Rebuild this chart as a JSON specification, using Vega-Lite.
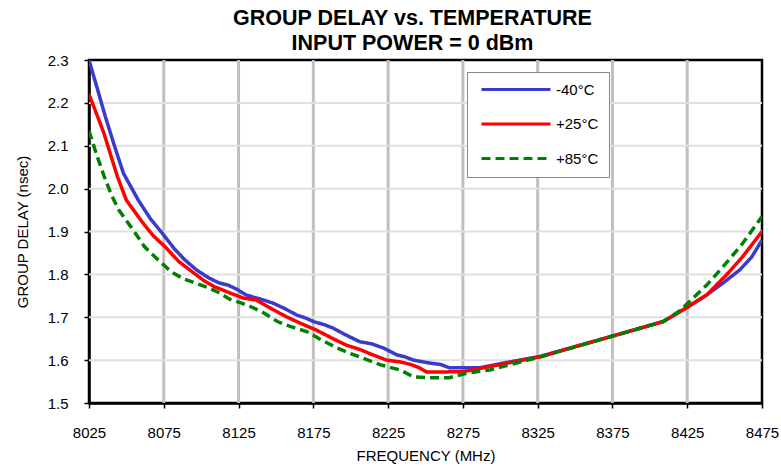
{
  "$schema": "https://vega.github.io/schema/vega-lite/v6.json",
  "width": 673,
  "height": 343,
  "autosize": "none",
  "padding": {"left": 89, "top": 60, "right": 19, "bottom": 66},
  "background": "white",
  "title": {
    "text": ["GROUP DELAY vs. TEMPERATURE", "INPUT POWER = 0 dBm"],
    "font": "Liberation Sans",
    "fontSize": 21.5,
    "fontWeight": "bold",
    "color": "black",
    "anchor": "middle",
    "offset": -1,
    "lineHeight": 25,
    "dx": -13
  },
  "config": {
    "font": "Liberation Sans",
    "view": {"stroke": "black", "strokeWidth": 2.5},
    "axis": {
      "labelFont": "Liberation Sans",
      "titleFont": "Liberation Sans",
      "labelFontSize": 15,
      "titleFontSize": 15,
      "titleFontWeight": "normal",
      "labelColor": "black",
      "titleColor": "black",
      "domainColor": "black",
      "domainWidth": 2.5,
      "tickColor": "black",
      "tickWidth": 1.5,
      "tickSize": 5,
      "labelFlush": false
    }
  },
  "data": {
    "values": [
      {"s": "-40°C", "f": 8025, "v": 2.30},
      {"s": "-40°C", "f": 8030, "v": 2.24},
      {"s": "-40°C", "f": 8036, "v": 2.167},
      {"s": "-40°C", "f": 8042, "v": 2.10},
      {"s": "-40°C", "f": 8048, "v": 2.036},
      {"s": "-40°C", "f": 8058, "v": 1.973},
      {"s": "-40°C", "f": 8066, "v": 1.93},
      {"s": "-40°C", "f": 8074, "v": 1.896},
      {"s": "-40°C", "f": 8082, "v": 1.86},
      {"s": "-40°C", "f": 8089, "v": 1.834},
      {"s": "-40°C", "f": 8097, "v": 1.81},
      {"s": "-40°C", "f": 8105, "v": 1.792},
      {"s": "-40°C", "f": 8112, "v": 1.78},
      {"s": "-40°C", "f": 8118, "v": 1.775},
      {"s": "-40°C", "f": 8124, "v": 1.765},
      {"s": "-40°C", "f": 8130, "v": 1.752},
      {"s": "-40°C", "f": 8140, "v": 1.742},
      {"s": "-40°C", "f": 8148, "v": 1.733},
      {"s": "-40°C", "f": 8156, "v": 1.72},
      {"s": "-40°C", "f": 8164, "v": 1.705},
      {"s": "-40°C", "f": 8170, "v": 1.698},
      {"s": "-40°C", "f": 8175, "v": 1.69},
      {"s": "-40°C", "f": 8182, "v": 1.683},
      {"s": "-40°C", "f": 8188, "v": 1.675},
      {"s": "-40°C", "f": 8196, "v": 1.66},
      {"s": "-40°C", "f": 8206, "v": 1.643},
      {"s": "-40°C", "f": 8214, "v": 1.638},
      {"s": "-40°C", "f": 8222, "v": 1.628},
      {"s": "-40°C", "f": 8231, "v": 1.612},
      {"s": "-40°C", "f": 8236, "v": 1.608},
      {"s": "-40°C", "f": 8242, "v": 1.60},
      {"s": "-40°C", "f": 8253, "v": 1.593},
      {"s": "-40°C", "f": 8260, "v": 1.59},
      {"s": "-40°C", "f": 8266, "v": 1.582},
      {"s": "-40°C", "f": 8286, "v": 1.582},
      {"s": "-40°C", "f": 8295, "v": 1.588},
      {"s": "-40°C", "f": 8302, "v": 1.593},
      {"s": "-40°C", "f": 8327, "v": 1.609},
      {"s": "-40°C", "f": 8374, "v": 1.655},
      {"s": "-40°C", "f": 8409, "v": 1.69},
      {"s": "-40°C", "f": 8424, "v": 1.721},
      {"s": "-40°C", "f": 8438, "v": 1.752},
      {"s": "-40°C", "f": 8449, "v": 1.78},
      {"s": "-40°C", "f": 8460, "v": 1.81},
      {"s": "-40°C", "f": 8468, "v": 1.84},
      {"s": "-40°C", "f": 8475, "v": 1.88},
      {"s": "+25°C", "f": 8025, "v": 2.22},
      {"s": "+25°C", "f": 8030, "v": 2.175},
      {"s": "+25°C", "f": 8035, "v": 2.129},
      {"s": "+25°C", "f": 8044, "v": 2.028},
      {"s": "+25°C", "f": 8050, "v": 1.973},
      {"s": "+25°C", "f": 8061, "v": 1.92},
      {"s": "+25°C", "f": 8068, "v": 1.89},
      {"s": "+25°C", "f": 8076, "v": 1.864},
      {"s": "+25°C", "f": 8085, "v": 1.83},
      {"s": "+25°C", "f": 8094, "v": 1.806},
      {"s": "+25°C", "f": 8102, "v": 1.785},
      {"s": "+25°C", "f": 8109, "v": 1.771},
      {"s": "+25°C", "f": 8119, "v": 1.757},
      {"s": "+25°C", "f": 8128, "v": 1.745},
      {"s": "+25°C", "f": 8137, "v": 1.74},
      {"s": "+25°C", "f": 8147, "v": 1.72},
      {"s": "+25°C", "f": 8157, "v": 1.701},
      {"s": "+25°C", "f": 8167, "v": 1.685},
      {"s": "+25°C", "f": 8177, "v": 1.67},
      {"s": "+25°C", "f": 8187, "v": 1.652},
      {"s": "+25°C", "f": 8197, "v": 1.635},
      {"s": "+25°C", "f": 8206, "v": 1.625},
      {"s": "+25°C", "f": 8215, "v": 1.612},
      {"s": "+25°C", "f": 8224, "v": 1.60},
      {"s": "+25°C", "f": 8233, "v": 1.596},
      {"s": "+25°C", "f": 8240, "v": 1.59},
      {"s": "+25°C", "f": 8246, "v": 1.582},
      {"s": "+25°C", "f": 8251, "v": 1.572},
      {"s": "+25°C", "f": 8275, "v": 1.573},
      {"s": "+25°C", "f": 8293, "v": 1.585},
      {"s": "+25°C", "f": 8327, "v": 1.608},
      {"s": "+25°C", "f": 8374, "v": 1.655},
      {"s": "+25°C", "f": 8409, "v": 1.69},
      {"s": "+25°C", "f": 8424, "v": 1.721},
      {"s": "+25°C", "f": 8438, "v": 1.752},
      {"s": "+25°C", "f": 8451, "v": 1.798},
      {"s": "+25°C", "f": 8462, "v": 1.841},
      {"s": "+25°C", "f": 8475, "v": 1.90},
      {"s": "+85°C", "f": 8025, "v": 2.135},
      {"s": "+85°C", "f": 8030, "v": 2.08},
      {"s": "+85°C", "f": 8035, "v": 2.03},
      {"s": "+85°C", "f": 8040, "v": 1.985},
      {"s": "+85°C", "f": 8045, "v": 1.95},
      {"s": "+85°C", "f": 8056, "v": 1.896},
      {"s": "+85°C", "f": 8062, "v": 1.865},
      {"s": "+85°C", "f": 8069, "v": 1.841},
      {"s": "+85°C", "f": 8080, "v": 1.806},
      {"s": "+85°C", "f": 8088, "v": 1.79},
      {"s": "+85°C", "f": 8096, "v": 1.78},
      {"s": "+85°C", "f": 8104, "v": 1.77},
      {"s": "+85°C", "f": 8111, "v": 1.759},
      {"s": "+85°C", "f": 8119, "v": 1.742},
      {"s": "+85°C", "f": 8127, "v": 1.733},
      {"s": "+85°C", "f": 8133, "v": 1.725},
      {"s": "+85°C", "f": 8142, "v": 1.71},
      {"s": "+85°C", "f": 8151, "v": 1.69},
      {"s": "+85°C", "f": 8160, "v": 1.678},
      {"s": "+85°C", "f": 8171, "v": 1.666},
      {"s": "+85°C", "f": 8180, "v": 1.648},
      {"s": "+85°C", "f": 8191, "v": 1.628},
      {"s": "+85°C", "f": 8200, "v": 1.615},
      {"s": "+85°C", "f": 8208, "v": 1.605},
      {"s": "+85°C", "f": 8220, "v": 1.589},
      {"s": "+85°C", "f": 8233, "v": 1.577},
      {"s": "+85°C", "f": 8242, "v": 1.561},
      {"s": "+85°C", "f": 8253, "v": 1.559},
      {"s": "+85°C", "f": 8266, "v": 1.559},
      {"s": "+85°C", "f": 8278, "v": 1.57},
      {"s": "+85°C", "f": 8293, "v": 1.577},
      {"s": "+85°C", "f": 8327, "v": 1.608},
      {"s": "+85°C", "f": 8374, "v": 1.655},
      {"s": "+85°C", "f": 8409, "v": 1.69},
      {"s": "+85°C", "f": 8420, "v": 1.715},
      {"s": "+85°C", "f": 8438, "v": 1.775},
      {"s": "+85°C", "f": 8451, "v": 1.826},
      {"s": "+85°C", "f": 8462, "v": 1.872},
      {"s": "+85°C", "f": 8475, "v": 1.935}
    ]
  },
  "layer": [
    {
      "mark": {"type": "rule", "color": "#c0c0c0", "strokeWidth": 3},
      "data": {"values": [{"f": 8075}, {"f": 8125}, {"f": 8175}, {"f": 8225}, {"f": 8275}, {"f": 8325}, {"f": 8375}, {"f": 8425}]},
      "encoding": {"x": {"field": "f", "type": "quantitative"}}
    },
    {
      "mark": {"type": "rule", "color": "#e0e0e0", "strokeWidth": 2},
      "data": {"values": [{"v": 1.6}, {"v": 1.7}, {"v": 1.8}, {"v": 1.9}, {"v": 2.0}, {"v": 2.1}, {"v": 2.2}]},
      "encoding": {"y": {"field": "v", "type": "quantitative"}}
    },
    {
      "mark": {"type": "line", "strokeWidth": 3.5, "clip": true},
      "encoding": {
        "x": {
          "field": "f",
          "type": "quantitative",
          "scale": {"domain": [8025, 8475], "nice": false, "zero": false},
          "axis": {
            "values": [8025, 8075, 8125, 8175, 8225, 8275, 8325, 8375, 8425, 8475],
            "format": "d",
            "grid": false,
            "title": "FREQUENCY (MHz)",
            "labelPadding": 17,
            "titlePadding": 8
          }
        },
        "y": {
          "field": "v",
          "type": "quantitative",
          "scale": {"domain": [1.5, 2.3], "nice": false, "zero": false},
          "axis": {
            "values": [1.5, 1.6, 1.7, 1.8, 1.9, 2.0, 2.1, 2.2, 2.3],
            "format": ".1f",
            "grid": false,
            "title": "GROUP DELAY (nsec)",
            "labelPadding": 16,
            "titlePadding": 17
          }
        },
        "color": {
          "field": "s",
          "type": "nominal",
          "sort": ["-40°C", "+25°C", "+85°C"],
          "scale": {"domain": ["-40°C", "+25°C", "+85°C"], "range": ["#3a3acc", "#ff0000", "#008000"]},
          "legend": {
            "title": null,
            "orient": "none",
            "legendX": 378,
            "legendY": 12,
            "symbolType": "M-0.5,0H11",
            "symbolSize": 144,
            "symbolStrokeWidth": 3,
            "labelFontSize": 15,
            "labelFont": "Liberation Sans",
            "labelColor": "black",
            "labelOffset": 64,
            "rowPadding": 18.5,
            "fillColor": "white",
            "strokeColor": "#888888",
            "padding": 10
          }
        },
        "strokeDash": {
          "field": "s",
          "type": "nominal",
          "sort": ["-40°C", "+25°C", "+85°C"],
          "scale": {"domain": ["-40°C", "+25°C", "+85°C"], "range": [[1, 0], [1, 0], [9, 5]]},
          "legend": null
        },
        "order": {"field": "f", "type": "quantitative"}
      }
    }
  ]
}
